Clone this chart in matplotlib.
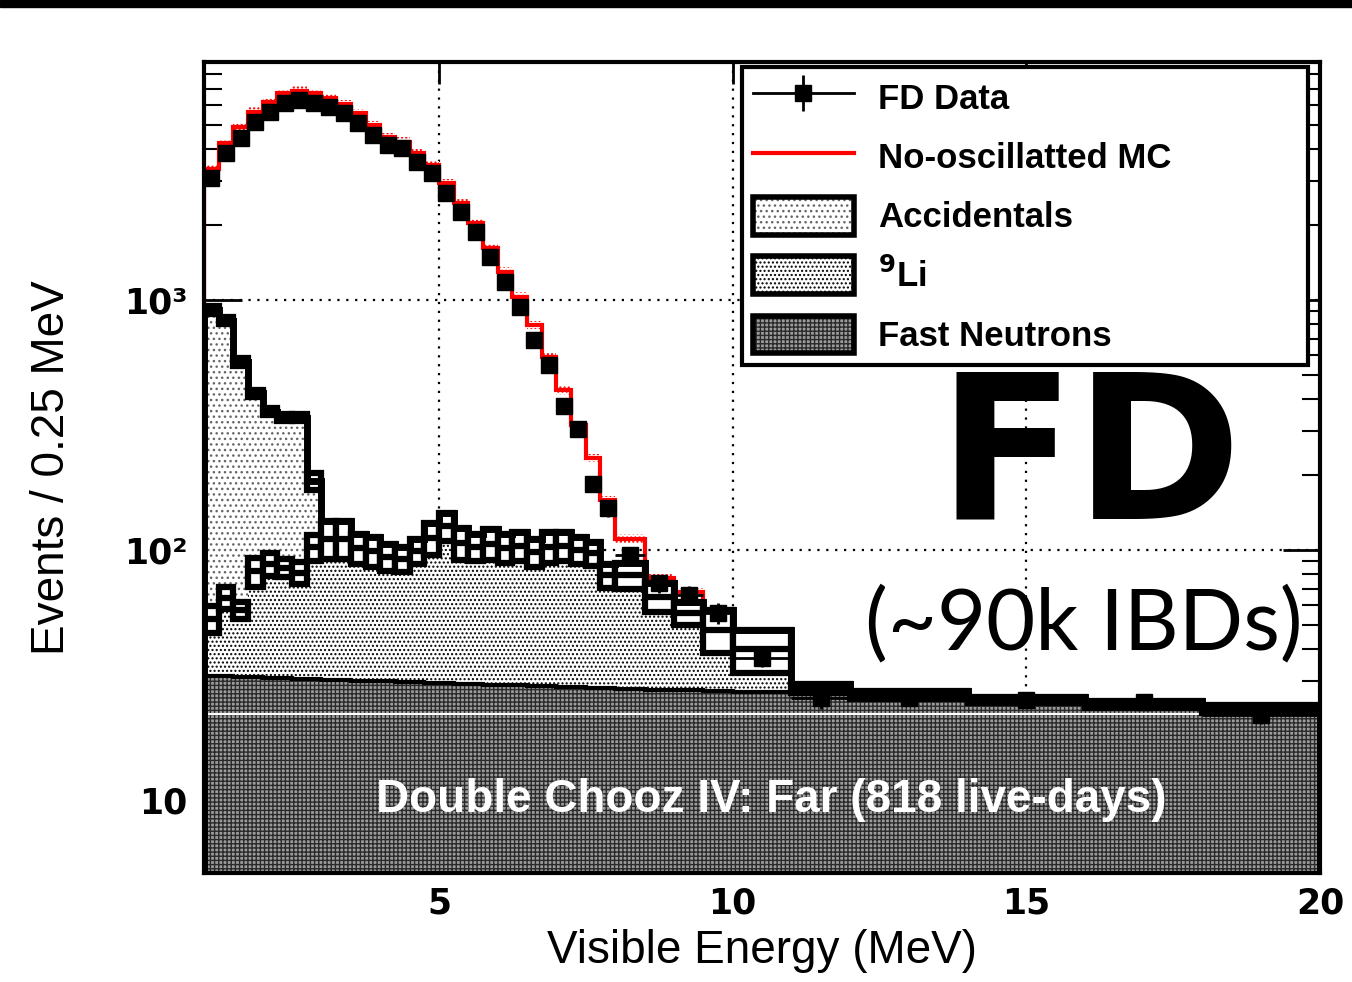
import numpy as np
import matplotlib
matplotlib.use('Agg')
import matplotlib.pyplot as plt
from matplotlib.patches import Patch, Rectangle
from matplotlib.lines import Line2D
from matplotlib.ticker import FixedLocator, LogLocator, NullLocator

plt.rcParams['font.family'] = ['Liberation Sans', 'DejaVu Sans']
plt.rcParams['hatch.linewidth'] = 1.0

# bin edges (MeV)
edges = [1.0, 1.25, 1.5, 1.75, 2.0, 2.25, 2.5, 2.75, 3.0, 3.25, 3.5, 3.75, 4.0,
         4.25, 4.5, 4.75, 5.0, 5.25, 5.5, 5.75, 6.0, 6.25, 6.5, 6.75, 7.0, 7.25,
         7.5, 7.75, 8.0, 8.5, 9.0, 9.5, 10.0, 11.0, 12.0, 14.0, 16.0, 18.0, 20.0]

# FD data (events / 0.25 MeV)
data = [3066, 3862, 4436, 5168, 5665, 6122, 6310, 6122, 5902, 5611, 5093, 4571,
        4169, 4043, 3575, 3212, 2673, 2255, 1875, 1489, 1175, 940, 692, 550, 377,
        304, 184, 147, 95.5, 73.5, 66.2, 55.8, 36.9, 25.5, 25.5, 25.1, 24.7, 21.9]
data_err = [55, 62, 67, 72, 75, 78, 79, 78, 77, 75, 71, 68, 65, 64, 60, 57, 52, 47,
            43, 39, 34, 31, 26, 23, 19, 17, 14, 12, 7, 6, 5.8, 5.3, 3.0, 2.5, 1.8,
            1.8, 1.8, 1.7]

# no-oscillation MC
mc = [3350, 4235, 4937, 5665, 6214, 6709, 6878, 6709, 6405, 6081, 5583, 5012,
      4477, 4300, 3862, 3467, 2929, 2436, 2026, 1610, 1298, 1031, 794, 593, 435,
      316, 233, 158, 111, 77, 68, 57, 41, 27.9, 26.4, 25.1, 24.1, 23.1]
mc_band = 0.04

# backgrounds
fn = [31.3, 31.2, 31.1, 30.9, 30.8, 30.7, 30.5, 30.4, 30.3, 30.2, 30.0, 29.9,
      29.8, 29.7, 29.5, 29.4, 29.3, 29.2, 29.1, 28.9, 28.8, 28.7, 28.6, 28.5,
      28.3, 28.2, 28.1, 28.0, 27.8, 27.6, 27.4, 27.2, 26.9, 26.6, 25.9, 25.0,
      24.0, 23.0]
li9 = [21.7, 33.3, 26.4, 51.1, 57.2, 54.3, 50.5, 72.1, 80.7, 80.8, 72.0, 69.1,
       64.2, 62.3, 69.5, 82.6, 95.7, 77.8, 73.9, 77.1, 73.2, 75.3, 69.4, 74.5,
       75.7, 71.8, 68.9, 51.0, 51.2, 37.4, 28.6, 20.8, 13.1, 1.3, 0.4, 0.1, 0.1, 0.1]
li9_err = [6.5, 6.5, 4.5, 11, 9.5, 7.2, 8.2, 12, 19, 19, 14, 13.5, 11.7, 10.7,
           11.3, 16.5, 16, 15.7, 12.9, 14.7, 13.6, 13.9, 12.2, 14.5, 14, 12.3,
           10.7, 8.6, 9.3, 8.7, 5.7, 9.4, 7.8, 1.2, 1.0, 0.8, 0.8, 0.8]
acc = [859, 761, 508, 342, 269, 253, 257, 86, 3, 2.5, 2, 2, 1.5, 1.5, 1.2, 1.2,
       1, 1, 1, 0.8, 0.8, 0.8, 0.7, 0.7, 0.6, 0.6, 0.5, 0.5, 0.5, 0.4, 0.4, 0.3,
       0.3, 0.2, 0.1, 0.1, 0.1, 0.1]
acc_err = [30, 27, 19, 14, 12, 11, 11, 15, 1, 1, 1, 1, 1, 1, 1, 1, 1, 1, 1, 1,
           1, 1, 1, 1, 1, 1, 1, 1, 1, 1, 1, 1, 1, 1, 1, 1, 1, 1]

edges = np.array(edges)
w = np.diff(edges)
cen = edges[:-1] + w / 2
s1 = np.array(fn)
s2 = s1 + np.array(li9)
s3 = s2 + np.array(acc)
mc = np.array(mc)
li_e = np.array(li9_err)
acc_e = np.array(acc_err)
big = np.array(acc) > 5

fig = plt.figure(figsize=(13.52, 9.82), dpi=100)
ax = fig.add_axes([0.1509, 0.1110, 0.8254, 0.8259])
ax.set_yscale('log')

FN_STYLE = dict(facecolor='#9c9c9c', edgecolor='#2a2a2a', hatch='++++')
LI_STYLE = dict(facecolor='white', edgecolor='black', hatch='....')
ACC_STYLE = dict(facecolor='white', edgecolor='#666666', hatch='...')

ax.stairs(s1, edges, baseline=1, fill=True, lw=0, zorder=1, **FN_STYLE)
ax.stairs(s2, edges, baseline=s1, fill=True, lw=0, zorder=1, **LI_STYLE)
ax.stairs(s3, edges, baseline=s2, fill=True, lw=0, zorder=1, **ACC_STYLE)
ax.axhline(22.1, color='white', lw=1.5, zorder=1.2)
ax.stairs(s1, edges, color='black', lw=3, zorder=1.5)

# MC
ax.stairs(mc * (1 + mc_band), edges, baseline=mc * (1 - mc_band), fill=True,
          facecolor='white', edgecolor='red', hatch='....', lw=0, zorder=1.8)
ax.stairs(mc, edges, baseline=1, color='red', lw=3, zorder=1.9)

# error boxes (thick frame + middle bar)
ax.bar(edges[:-1], 2 * li_e, bottom=s2 - li_e, width=w, align='edge',
       facecolor='white', edgecolor='black', linewidth=4.5, zorder=2)
ax.hlines(s2, edges[:-1], edges[1:], color='black', lw=4.5, zorder=2.05)
ax.bar(edges[:-1][big], 2 * acc_e[big], bottom=(s3 - acc_e)[big],
       width=w[big], align='edge', facecolor='white', edgecolor='black',
       linewidth=4.5, zorder=2.5)
top_line = np.where(big, s3, s2 + li_e)
ax.stairs(top_line, edges, color='black', lw=5, zorder=2.6)

# data
ax.errorbar(cen, data, yerr=data_err, xerr=w / 2, fmt='s', ms=11,
            color='black', elinewidth=2, capsize=0, zorder=4)

ax.set_xlim(1, 20)
ax.set_ylim(5.1, 8950)
ax.xaxis.set_major_locator(FixedLocator([5, 10, 15, 20]))
ax.xaxis.set_minor_locator(NullLocator())
ax.yaxis.set_major_locator(FixedLocator([10, 100, 1000]))
ax.yaxis.set_minor_locator(LogLocator(base=10, subs=np.arange(2, 10)))
ax.set_xticklabels(['5', '10', '15', '20'])
ax.set_yticklabels(['10', '10²', '10³'])
ax.yaxis.set_minor_formatter(plt.NullFormatter())
for lab in ax.get_xticklabels() + ax.get_yticklabels():
    lab.set_fontfamily('DejaVu Sans')
    lab.set_fontweight('bold')
    lab.set_fontsize(25)
ax.tick_params(which='both', direction='in', top=True, right=True)
ax.xaxis.set_tick_params(which='major', length=16, width=2, pad=10)
ax.yaxis.set_tick_params(which='major', length=27, width=2, pad=12)
ax.yaxis.set_tick_params(which='minor', length=13, width=1.5)
for sp in ax.spines.values():
    sp.set_linewidth(3)
ax.grid(True, which='major', ls=(0, (1, 3)), lw=1.6, color='black')
ax.set_axisbelow(True)

ax.set_xlabel('Visible Energy (MeV)', fontsize=33, labelpad=6)
ax.set_ylabel('Events / 0.25 MeV', fontsize=33, labelpad=36)

# legend
def box(style):
    return (Patch(lw=0, **style), Patch(facecolor='none', edgecolor='black', lw=4))

data_handle = (Line2D([], [], color='black', lw=2, marker='s', ms=11),
               Line2D([], [], color='black', ls='none', marker='|', ms=26, mew=2))
handles = [data_handle, Line2D([], [], color='red', lw=3), box(ACC_STYLE),
           box(LI_STYLE), box(FN_STYLE)]
labels = ['FD Data', 'No-oscillatted MC', 'Accidentals', r'$^{\mathbf{9}}$Li',
          'Fast Neutrons']
leg = ax.legend(handles, labels, loc='upper left',
                bbox_to_anchor=(742 / 1352, 1 - 365 / 982, 566 / 1352, 298 / 982),
                bbox_transform=fig.transFigure, mode='expand', borderaxespad=0,
                prop={'weight': 'bold', 'size': 25}, fancybox=False,
                edgecolor='black', framealpha=1, handlelength=2.9,
                handleheight=1.3, labelspacing=0.62, borderpad=0.32,
                handletextpad=0.7)
leg.get_frame().set_linewidth(3)
leg.set_zorder(6)

fig.text(1090 / 1352, 1 - 463 / 982, 'FD', ha='center', va='center', fontsize=145,
         fontweight='bold', family='DejaVu Sans', zorder=7)
fig.text(1084 / 1352, 1 - 625 / 982, '(~90k IBDs)', ha='center', va='center',
         fontsize=61, fontweight='normal', family=['Lato', 'DejaVu Sans'], zorder=7)
ax.text(10.65, 10, 'Double Chooz IV: Far (818 live-days)', ha='center', va='center',
        fontsize=33, fontweight='bold', color='white', zorder=7)

fig.add_artist(Rectangle((0, 1 - 7 / 982), 1, 7 / 982, transform=fig.transFigure,
                         color='black'))

fig.savefig('out.png', dpi=100)
